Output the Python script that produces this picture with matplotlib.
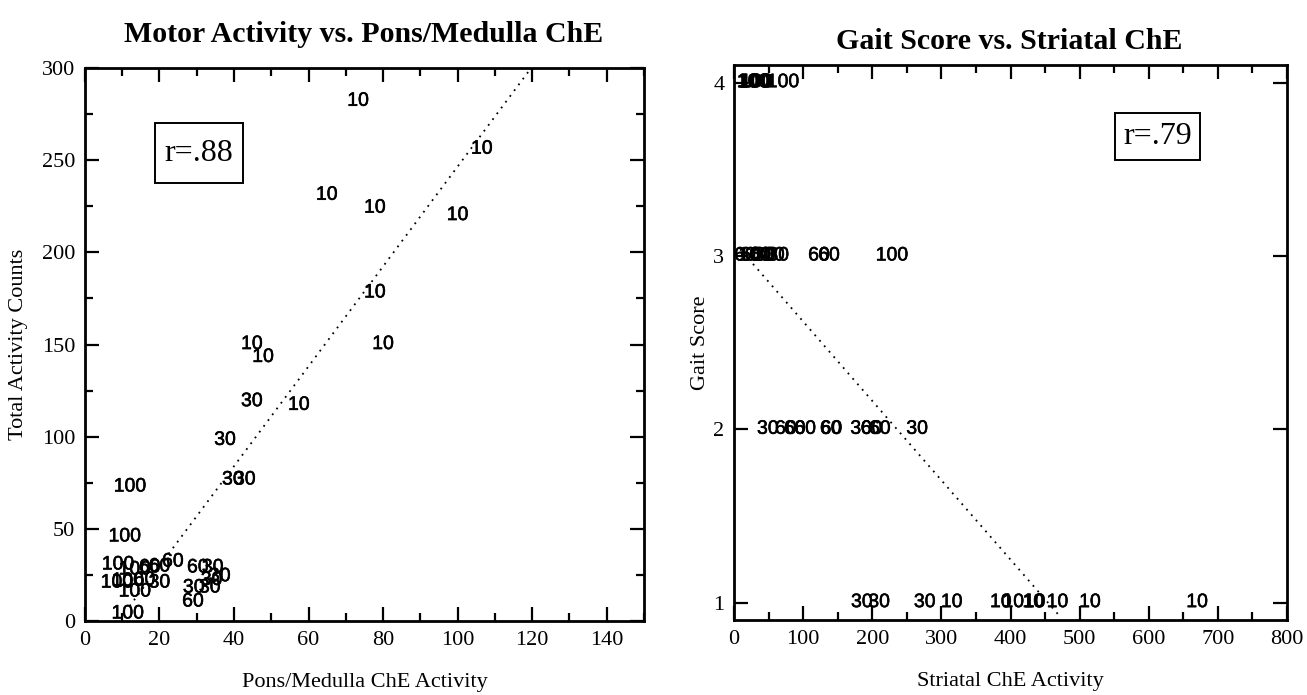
import matplotlib
matplotlib.use("Agg")
import matplotlib.pyplot as plt
import matplotlib.patheffects as pe
from matplotlib.patches import Rectangle
from matplotlib.ticker import MultipleLocator

# --- Motor activity vs. pons/medulla ChE (labels = dose group) ---
motor_x = [73.3, 106.5, 64.9, 77.8, 100.0, 77.8, 80.0, 44.8, 47.8, 57.4,
           44.8, 37.6, 39.7, 42.9, 29.2, 33.5, 34.3, 36.2, 34.0, 20.0,
           17.4, 20.0, 23.6, 29.0, 30.3, 16.0,
           12.1, 10.7, 11.5, 8.9, 13.4, 8.6, 13.4, 11.5]
motor_y = [282, 256, 231, 224, 220, 178, 150, 150, 143, 117,
           119, 98, 76.5, 76.5, 17.9, 17.9, 28.8, 24, 22, 20.6,
           28.8, 29.3, 32, 10.3, 28.8, 22,
           72.7, 45.6, 3.8, 30.4, 27.7, 20.6, 15.7, 21.5]
motor_dose = ["10"] * 10 + ["30"] * 10 + ["60"] * 6 + ["100"] * 8
motor_fit_x = [12.0, 121.0]
motor_slope, motor_icpt = 2.71, -24.4

# --- Gait score vs. striatal ChE ---
gait_x = [27.5, 29, 31, 33, 71,
          16, 25, 30, 38, 45, 50, 64, 123, 137.5, 228.6,
          49, 75, 88, 103, 140, 141, 184, 199, 211, 265,
          185, 210, 276, 315, 386, 404, 433, 435, 468, 515, 670]
gait_y = [4] * 5 + [3] * 10 + [2] * 10 + [1] * 11
gait_dose = (["100"] * 5
             + ["60", "60", "100", "60", "30", "100", "30", "60", "60", "100"]
             + ["30", "60", "60", "60", "60", "60", "30", "60", "60", "30"]
             + ["30", "30", "30", "10", "10", "10", "10", "10", "10", "10", "10"])
gait_fit_x = [0.0, 472.0]
gait_slope, gait_icpt = -0.00458, 3.08

SERIF = "Liberation Serif"
SANS = "Liberation Sans"
THICK = [pe.withStroke(linewidth=0.4, foreground="black")]


def style_axes(ax):
    for s in ax.spines.values():
        s.set_linewidth(2.0)
    ax.tick_params(which="both", direction="in", top=True, right=True,
                   width=1.6, labelsize=16, pad=7)
    ax.tick_params(which="major", length=10)
    ax.tick_params(which="minor", length=6)
    for lab in ax.get_xticklabels() + ax.get_yticklabels():
        lab.set_family(SERIF)


def r_box(ax, xc, yc, w, h, text):
    ax.add_patch(Rectangle((xc - w / 2, yc - h / 2), w, h, transform=ax.transAxes,
                           fill=False, lw=1.4, ec="black"))
    ax.text(xc, yc, text, transform=ax.transAxes, ha="center", va="center",
            family=SERIF, fontsize=23)


def dose_labels(ax, xs, ys, doses):
    for x, y, d in zip(xs, ys, doses):
        ax.text(x, y, d, ha="center", va="center", family=SANS, fontsize=14,
                path_effects=THICK)


fig = plt.figure(figsize=(13.07, 6.95), dpi=100)
ax1 = fig.add_axes([0.065, 0.1065, 0.4277, 0.7955])
ax2 = fig.add_axes([0.5616, 0.108, 0.4231, 0.798])

# left panel
dose_labels(ax1, motor_x, motor_y, motor_dose)
ax1.plot(motor_fit_x, [motor_icpt + motor_slope * v for v in motor_fit_x],
         color="black", lw=1.3, ls=(0, (1, 3)))
ax1.set_xlim(0, 150)
ax1.set_ylim(0, 300)
ax1.set_xticks(range(0, 141, 20))
ax1.xaxis.set_minor_locator(MultipleLocator(10))
ax1.yaxis.set_major_locator(MultipleLocator(50))
ax1.yaxis.set_minor_locator(MultipleLocator(25))
ax1.set_xlabel("Pons/Medulla ChE Activity", family=SERIF, fontsize=16, labelpad=17)
ax1.set_ylabel("Total Activity Counts", family=SERIF, fontsize=16, labelpad=10)
style_axes(ax1)
r_box(ax1, 0.204, 0.846, 0.157, 0.109, "r=.88")

# right panel
dose_labels(ax2, gait_x, gait_y, gait_dose)
ax2.plot(gait_fit_x, [gait_icpt + gait_slope * v for v in gait_fit_x],
         color="black", lw=1.3, ls=(0, (1, 3)))
ax2.set_xlim(0, 800)
ax2.set_ylim(0.9, 4.1)
ax2.xaxis.set_major_locator(MultipleLocator(100))
ax2.xaxis.set_minor_locator(MultipleLocator(50))
ax2.set_yticks([1, 2, 3, 4])
ax2.set_xlabel("Striatal ChE Activity", family=SERIF, fontsize=16, labelpad=17)
ax2.set_ylabel("Gait Score", family=SERIF, fontsize=16, labelpad=2)
style_axes(ax2)
r_box(ax2, 0.766, 0.871, 0.154, 0.085, "r=.79")

fig.text(0.2785, 0.95, "Motor Activity vs. Pons/Medulla ChE", ha="center", va="center",
         family=SERIF, fontweight="bold", fontsize=21.5)
fig.text(0.7725, 0.94, "Gait Score vs. Striatal ChE", ha="center", va="center",
         family=SERIF, fontweight="bold", fontsize=21.5)

fig.savefig("out.png", dpi=100)
